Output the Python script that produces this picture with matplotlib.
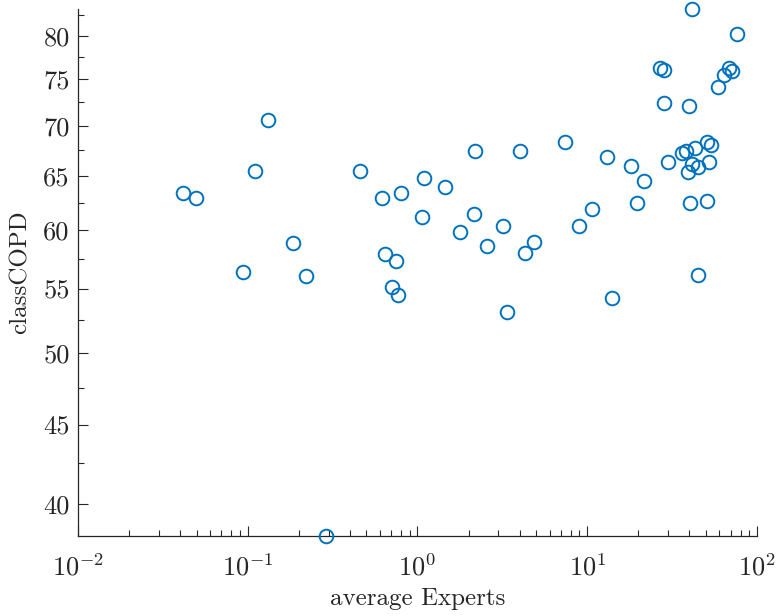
import numpy as np
import matplotlib
matplotlib.use("Agg")
import matplotlib.pyplot as plt
from matplotlib.ticker import FixedLocator, NullFormatter, LogLocator

# values
avg_experts = [0.0415, 0.0498, 0.0937, 0.111, 0.1315, 0.185, 0.219, 0.291,
               0.457, 0.618, 0.644, 0.703, 0.748, 0.765, 0.797, 1.070, 1.094,
               1.443, 1.783, 2.168, 2.157, 2.562, 3.171, 3.362, 3.995, 4.274,
               4.851, 7.387, 8.971, 10.62, 13.12, 13.98, 18.03, 19.56, 21.60,
               26.73, 28.33, 28.21, 30.03, 36.32, 38.04, 39.62, 39.40, 40.49,
               41.27, 41.44, 43.15, 45.13, 44.95, 50.79, 53.62, 52.19, 50.99,
               59.21, 63.97, 68.77, 71.61, 76.30]
class_copd = [63.35, 62.94, 56.41, 65.48, 70.62, 58.85, 56.05, 38.16,
              65.48, 62.94, 57.90, 55.14, 57.33, 54.52, 63.35, 61.19, 64.82,
              63.93, 59.81, 67.44, 61.47, 58.59, 60.37, 53.14, 67.44, 58.04,
              58.96, 68.38, 60.37, 61.89, 66.84, 54.25, 65.94, 62.48, 64.53,
              76.23, 76.04, 72.45, 66.35, 67.27, 67.47, 72.09, 65.41, 62.48,
              83.22, 66.13, 67.78, 65.90, 56.16, 68.38, 68.05, 66.35, 62.61,
              74.15, 75.51, 76.26, 75.93, 80.20]

xticks = [1e-2, 1e-1, 1e0, 1e1, 1e2]
xticklabels = ["$10^{-2}$", "$10^{-1}$", "$10^{0}$", "$10^{1}$", "$10^{2}$"]
yticks = [40, 45, 50, 55, 60, 65, 70, 75, 80]
yminor = [37.5, 42.5, 47.5, 52.5, 57.5, 62.5, 67.5, 72.5, 77.5, 82.5]

plt.rcParams["font.family"] = "cmr10"
plt.rcParams["mathtext.fontset"] = "cm"
plt.rcParams["axes.formatter.use_mathtext"] = True

txt = "#262626"

fig = plt.figure(figsize=(7.8, 6.16), dpi=100)
ax = fig.add_axes([0.1, 0.1299, 0.8705, 0.8555])

ax.plot(avg_experts, class_copd, "o", mfc="none", mec="#0072BD",
        ms=9.8, mew=1.4, clip_on=False, zorder=3)

ax.set_xscale("log")
ax.set_yscale("log")
ax.set_xlim(1e-2, 1e2)
ax.set_ylim(min(class_copd), max(class_copd))

ax.xaxis.set_major_locator(FixedLocator(xticks))
ax.set_xticklabels(xticklabels)
ax.xaxis.set_minor_locator(LogLocator(base=10, subs=np.arange(2, 10)))
ax.xaxis.set_minor_formatter(NullFormatter())

ax.yaxis.set_major_locator(FixedLocator(yticks))
ax.set_yticklabels([str(v) for v in yticks])
ax.yaxis.set_minor_locator(FixedLocator(yminor))
ax.yaxis.set_minor_formatter(NullFormatter())

for s in ["top", "right"]:
    ax.spines[s].set_visible(False)
for s in ["left", "bottom"]:
    ax.spines[s].set_color(txt)
    ax.spines[s].set_linewidth(0.9)

ax.tick_params(which="major", direction="in", length=7, width=0.8,
               color=txt, labelcolor=txt, labelsize=19)
ax.tick_params(which="minor", direction="in", length=4, width=0.8, color=txt)
ax.tick_params(axis="x", which="major", pad=13)
ax.tick_params(axis="y", which="major", pad=6)

ax.set_xlabel("average Experts", fontsize=18, color=txt, labelpad=5)
ax.set_ylabel("classCOPD", fontsize=18, color=txt, labelpad=8)

fig.savefig("out.png", dpi=100)
